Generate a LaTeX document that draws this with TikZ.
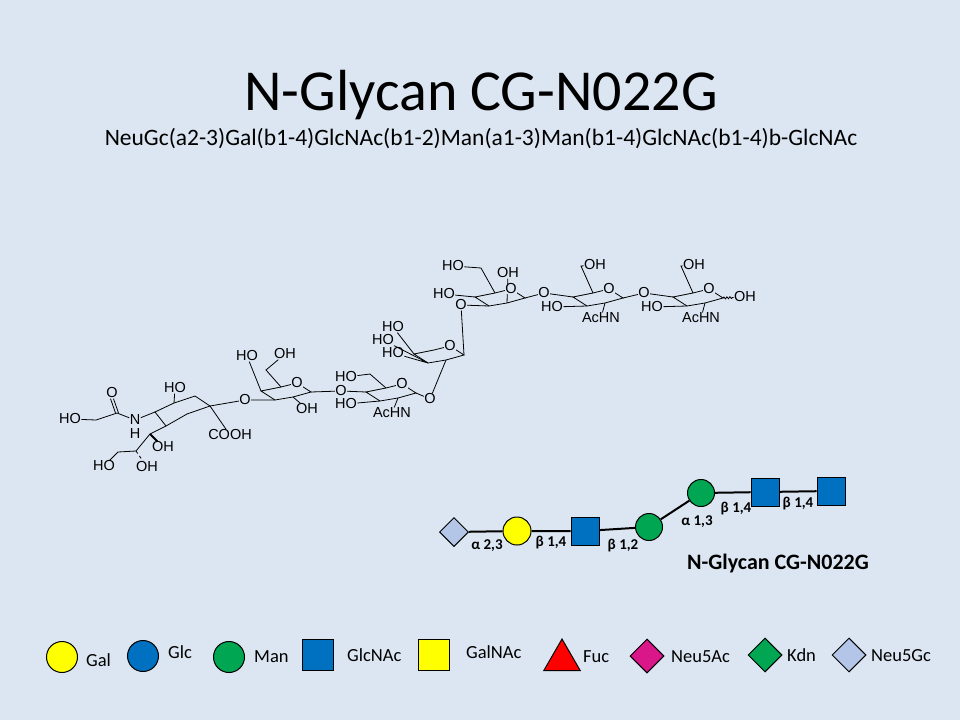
\documentclass[tikz,border=0pt]{standalone}
\usepackage{fontspec}
\setmainfont{Carlito}
\newfontfamily\chem{Liberation Sans}
\usetikzlibrary{shapes.geometric,decorations.pathmorphing}
\definecolor{bg}{HTML}{DCE6F2}
\definecolor{galy}{HTML}{FFFF00}
\definecolor{glcb}{HTML}{0070C0}
\definecolor{mang}{HTML}{00A651}
\definecolor{gcb}{HTML}{B4C6E7}
\begin{document}
\begin{tikzpicture}[x=1pt,y=-1pt,
 lab/.style={font=\chem\fontsize{14.5}{14}\selectfont,fill=bg,inner sep=0.3pt},
 bond/.style={line width=0.8pt},
 lk/.style={font=\bfseries\fontsize{15}{15}\selectfont,inner sep=0},
 leg/.style={font=\fontsize{18.5}{18}\selectfont,anchor=west,inner sep=0},
 sym/.style={draw=black,line width=1pt}]
\fill[bg] (0,0) rectangle (960,720);
\useasboundingbox (0,0) rectangle (960,720);
\node (title) at (481,95) {\fontsize{58}{58}\selectfont N-Glycan CG-N022G};
\node (sub) at (481,139) {\fontsize{23.5}{24}\selectfont NeuGc(a2-3)Gal(b1-4)GlcNAc(b1-2)Man(a1-3)Man(b1-4)GlcNAc(b1-4)b-GlcNAc};
\newcommand\sug[3]{%
 \coordinate (#1o) at (#2,#3);
 \coordinate (#1c1) at (#2+14,#3+9);
 \coordinate (#1c2) at (#2-4,#3+14);
 \coordinate (#1c3) at (#2-22,#3+17);
 \coordinate (#1c4) at (#2-36,#3+8);
 \coordinate (#1c5) at (#2-16,#3+4);
 \draw[bond] (#1o)--(#1c1)--(#1c2)--(#1c3)--(#1c4)--(#1c5)--cycle;}
\coordinate (na) at (155,412); \coordinate (nb) at (174,403);
\coordinate (nc) at (195,396); \coordinate (nd) at (210,406);
\coordinate (no) at (187,414); \coordinate (ne) at (166,426);
\draw[bond] (nb)--(nc)--(nd)--(no)--(ne)--(na)--cycle;
\sug{g}{297}{383}
\sug{n}{402}{384}
\sug{m}{450}{346}
\sug{b}{511}{289}
\sug{x}{609}{289}
\sug{y}{709}{289}
\node[lab] (N1) at (135,420) {N};
\node[lab] (NH) at (135,434) {H};
\node[lab] (Ok) at (112,393) {O};
\coordinate (cc) at (117,413); \coordinate (ch) at (96,420);
\node[lab] (HOa) at (70,419) {HO};
\draw[bond] (na)--(N1) (N1)--(cc) (cc)--(ch) (ch)--(HOa);
\draw[bond] ([xshift=-1.5pt]cc)--([xshift=-1.5pt]Ok.south) ([xshift=1.5pt]cc)--([xshift=1.5pt]Ok.south);
\node[lab] (HOb) at (175,388) {HO};
\draw[bond] (nb)--(HOb);
\coordinate (s1) at (150,434); \coordinate (s2) at (136,451); \coordinate (s3) at (118,452);
\node[lab] (OHc) at (163,447) {OH};
\node[lab] (OHd) at (147,467) {OH};
\node[lab] (HOe) at (104,466) {HO};
\draw[bond] (ne)--(s1)--(s2)--(s3)--(HOe);
\draw[bond,line width=2pt] (s1)--(OHc);
\draw[bond,dashed] (s2)--(OHd);
\node[lab] (COOH) at (230,435) {COOH};
\draw[bond] (nd)--(COOH);
\node[lab] (O1) at (245,400) {O};
\draw[bond] (nd)--(O1)--(gc3);
\node[lab] (HOg) at (247,356) {HO};
\node[lab] (OHg) at (285,354) {OH};
\node[lab] (OHg2) at (307,409) {OH};
\coordinate (g6) at (266,370);
\draw[bond] (gc4)--(HOg) (gc5)--(g6)--(OHg) (gc2)--(OHg2);
\node[lab] (O2) at (341,391) {O};
\draw[bond] (gc1)--(O2)--(nc4);
\node[lab] (HOn1) at (346,377) {HO};
\node[lab] (HOn2) at (346,404) {HO};
\node[lab] (AcN) at (392,413) {AcHN};
\coordinate (n6) at (370,374);
\draw[bond] (nc5)--(n6)--(HOn1) (nc3)--(HOn2) (nc2)--(AcN);
\node[lab] (O3) at (430,399) {O};
\draw[bond] (nc1)--(O3)--(mc2);
\node[lab] (HOm1) at (393,327) {HO};
\node[lab] (HOm2) at (383,340) {HO};
\node[lab] (HOm3) at (393,353) {HO};
\draw[bond] (mc4)--(HOm1) (mc3)--(HOm2) (mc3)--(HOm3);
\node[lab] (O4) at (461,305) {O};
\draw[bond] (mc1)--(O4) (O4)--(bc3);
\node[lab] (HOb1) at (444,294) {HO};
\node[lab] (HOb2) at (453,266) {HO};
\node[lab] (OHb) at (508,273) {OH};
\coordinate (b6) at (481,268);
\draw[bond] (bc4)--(HOb1) (bc5)--(b6)--(HOb2) (bc2)--(OHb);
\node[lab] (O5) at (544,293) {O};
\draw[bond] (bc1)--(O5)--(xc4);
\node[lab] (HOx) at (552,307) {HO};
\node[lab] (AcX) at (601,318) {AcHN};
\node[lab] (OHx) at (595,265) {OH};
\coordinate (x6) at (581,266);
\draw[bond] (xc3)--(HOx) (xc2)--(AcX) (xc5)--(x6)--(OHx);
\node[lab] (O6) at (644,293) {O};
\draw[bond] (xc1)--(O6)--(yc4);
\node[lab] (HOy) at (652,307) {HO};
\node[lab] (AcY) at (701,318) {AcHN};
\node[lab] (OHy) at (694,265) {OH};
\coordinate (y6) at (681,266);
\draw[bond] (yc3)--(HOy) (yc2)--(AcY) (yc5)--(y6)--(OHy);
\node[lab] (OHe) at (745,297) {OH};
\draw[bond,decorate,decoration={snake,amplitude=1pt,segment length=3pt}] (yc1)--(OHe);
\foreach \r in {g,n,m,b,x,y}{\node[lab] at (\r o) {O};}
\node[lab] at (no) {O};
\node[sym,diamond,fill=gcb,minimum size=29pt,inner sep=0] (s1) at (454,532) {};
\node[sym,circle,fill=galy,minimum size=28pt] (s2) at (517,531) {};
\node[sym,rectangle,fill=glcb,minimum size=28pt] (s3) at (585,531) {};
\node[sym,circle,fill=mang,minimum size=27pt] (s4) at (649,527) {};
\node[sym,circle,fill=mang,minimum size=27pt] (s5) at (701,493) {};
\node[sym,rectangle,fill=glcb,minimum size=28pt] (s6) at (765,492) {};
\node[sym,rectangle,fill=glcb,minimum size=28pt] (s7) at (831,491) {};
\draw[line width=2pt] (s1)--(s2) (s2)--(s3) (s3)--(s4) (s4)--(s5) (s5)--(s6) (s6)--(s7);
\node[lk] (l1) at (487,546) {α 2,3};
\node[lk] (l2) at (551,543) {β 1,4};
\node[lk] (l3) at (623,546) {β 1,2};
\node[lk] (l4) at (697,522) {α 1,3};
\node[lk] (l5) at (736,509) {β 1,4};
\node[lk] (l6) at (798,504) {β 1,4};
\node (gname) at (778,564) {\bfseries\fontsize{22}{22}\selectfont N-Glycan CG-N022G};
\node[sym,circle,fill=galy,minimum size=31pt] (L1) at (62,657) {};
\node[leg] (T1) at (86,660) {Gal};
\node[sym,circle,fill=glcb,minimum size=31pt] (L2) at (143,656) {};
\node[leg] (T2) at (168,652) {Glc};
\node[sym,circle,fill=mang,minimum size=31pt] (L3) at (229,657) {};
\node[leg] (T3) at (254,657) {Man};
\node[sym,rectangle,fill=glcb,minimum size=31pt] (L4) at (318,655) {};
\node[leg] (T4) at (347,655) {GlcNAc};
\node[sym,rectangle,fill=galy,minimum size=31pt] (L5) at (434,655) {};
\node[leg] (T5) at (466,652) {GalNAc};
\node[sym,regular polygon,regular polygon sides=3,fill=red,minimum size=42pt,inner sep=0] (L6) at (562,660) {};
\node[leg] (T6) at (583,657) {Fuc};
\node[sym,diamond,fill=magenta!80!violet,minimum size=34pt,inner sep=0] (L7) at (647,656) {};
\node[leg] (T7) at (671,657) {Neu5Ac};
\node[sym,diamond,fill=mang,minimum size=34pt,inner sep=0] (L8) at (765,655) {};
\node[leg] (T8) at (787,655) {Kdn};
\node[sym,diamond,fill=gcb,minimum size=34pt,inner sep=0] (L9) at (849,655) {};
\node[leg] (T9) at (871,656) {Neu5Gc};
\end{tikzpicture}
\end{document}
